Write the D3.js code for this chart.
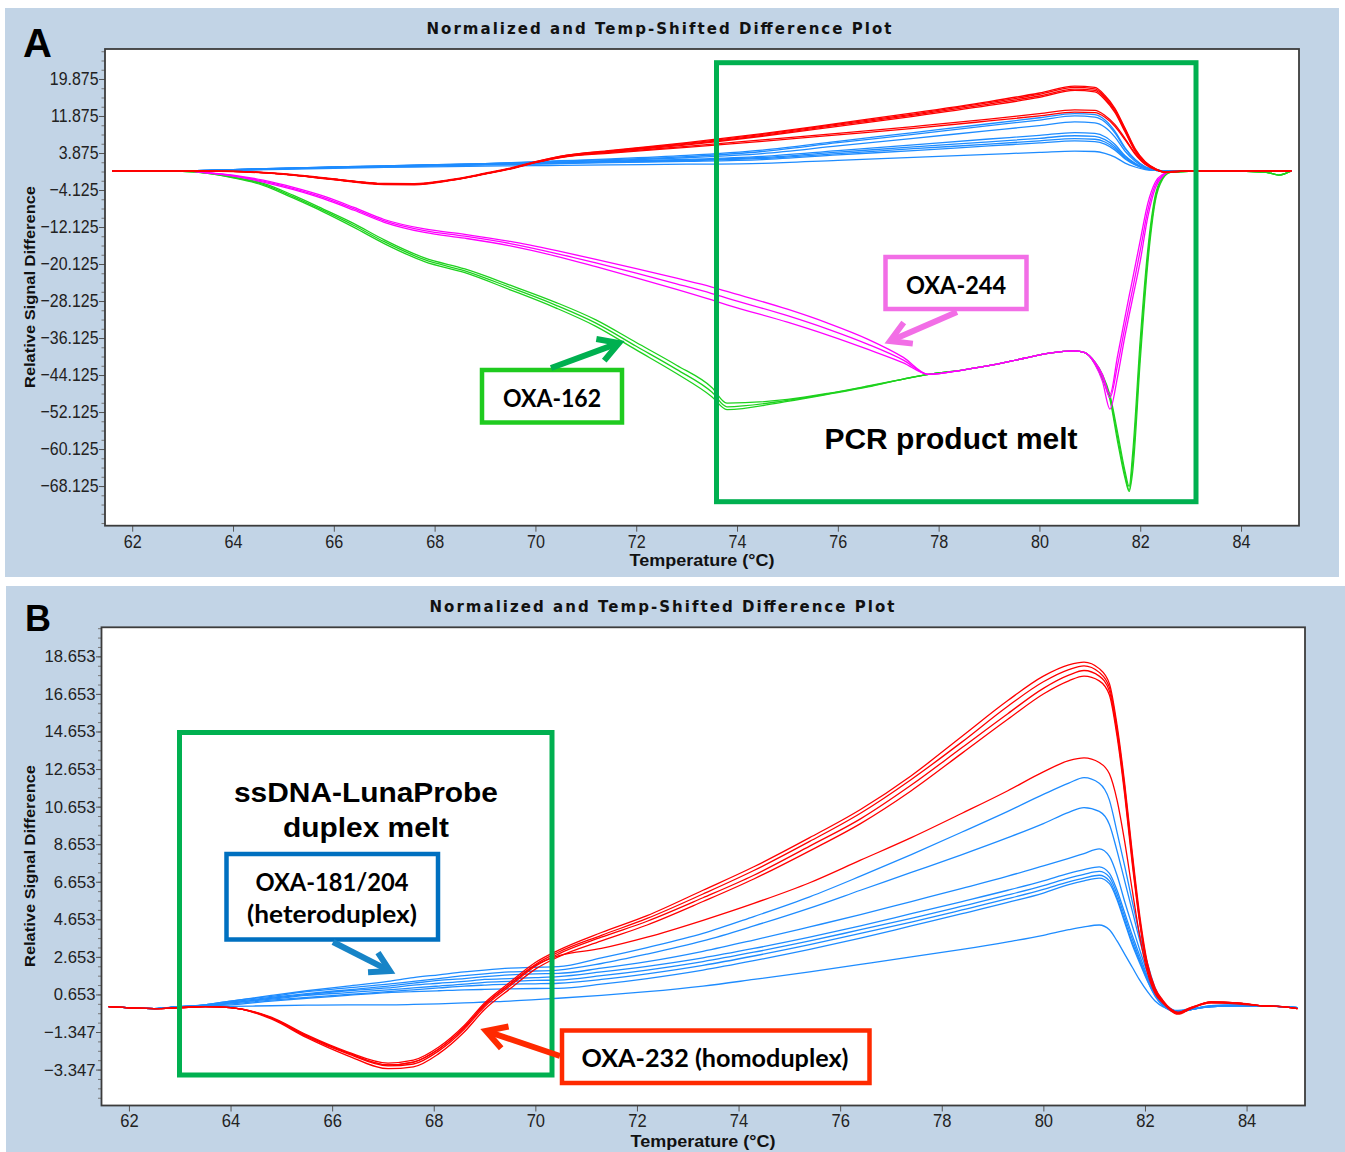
<!DOCTYPE html>
<html><head><meta charset="utf-8">
<script src="https://cdn.jsdelivr.net/npm/d3@7"></script>
<style>body{margin:0;background:#fff}svg{display:block}</style>
</head><body>
<script>
// ---------------- DATA ----------------
const xTicks = [62,64,66,68,70,72,74,76,78,80,82,84];
const yTicksA = [19.875,11.875,3.875,-4.125,-12.125,-20.125,-28.125,-36.125,-44.125,-52.125,-60.125,-68.125];
const yTicksB = [18.653,16.653,14.653,12.653,10.653,8.653,6.653,4.653,2.653,0.653,-1.347,-3.347];

// Panel A, red & blue temperature grid (°C)
const tempA_RB = [61.6,63.0,64.0,65.0,66.0,67.0,67.6,68.3,69.0,69.5,70.0,70.5,71.5,73.0,74.5,76.0,77.5,79.0,80.0,80.7,81.1,81.3,81.5,81.7,81.9,82.1,82.3,82.5,82.8,83.5,84.5,85.0];
const redA1 = [0,0,-0.1,-0.6,-1.7,-2.7,-2.75,-1.9,-0.5,0.6,2.0,3.2,4.45,6.1,8.05,10.3,12.55,15.0,16.85,18.35,18.05,16.3,13.5,9.2,4.8,2.0,0.5,-0.25,-0.1,0,0,0];
const redA2 = [0,0,-0.1,-0.7,-1.8,-2.8,-2.85,-2.0,-0.6,0.5,1.95,3.15,4.35,5.95,7.9,10.1,12.3,14.75,16.55,18.05,17.75,16.0,13.2,9.0,4.6,1.9,0.45,-0.3,-0.1,0,0,0];
const redA3 = [0,0,-0.1,-0.7,-1.85,-2.85,-2.9,-2.05,-0.65,0.45,1.85,3.05,4.25,5.8,7.7,9.9,12.05,14.45,16.2,17.7,17.4,15.7,12.9,8.7,4.4,1.75,0.4,-0.3,-0.1,0,0,0];
const redA4 = [0,0,-0.15,-0.75,-1.9,-2.95,-3.0,-2.1,-0.7,0.4,1.8,2.95,4.15,5.65,7.5,9.65,11.8,14.15,15.9,17.4,17.1,15.4,12.6,8.4,4.2,1.6,0.35,-0.35,-0.1,0,0,0];
const redA5 = [0,0,-0.1,-0.7,-1.8,-2.8,-2.85,-2.0,-0.6,0.5,1.9,3.0,4.0,5.3,6.7,8.1,9.6,11.2,12.4,13.2,13.1,12.0,10.0,7.0,3.8,1.5,0.35,-0.2,-0.05,0,0,0];
const redA6 = [0,0,-0.1,-0.7,-1.8,-2.8,-2.85,-2.0,-0.6,0.5,1.85,2.9,3.85,5.1,6.4,7.8,9.2,10.8,11.9,12.7,12.6,11.6,9.6,6.7,3.6,1.4,0.3,-0.2,-0.05,0,0,0];
const blueA1 = [0,0,0.3,0.6,0.85,1.1,1.25,1.4,1.6,1.8,2.0,2.2,2.6,3.35,4.5,6.4,8.3,10.2,11.5,12.4,12.15,11.0,8.55,5.0,2.5,0.9,0.25,0,0,0,0,0];
const blueA2 = [0,0,0.3,0.6,0.85,1.1,1.25,1.4,1.55,1.75,1.9,2.1,2.45,3.1,4.2,6.1,7.9,9.8,11.0,11.9,11.65,10.6,8.2,4.8,2.4,0.85,0.25,0,0,0,0,0];
const blueA3 = [0,0,0.25,0.55,0.8,1.05,1.2,1.35,1.5,1.65,1.8,1.95,2.25,2.85,3.75,5.4,7.05,8.7,9.8,10.6,10.4,9.45,7.3,4.25,2.1,0.75,0.2,0,0,0,0,0];
const blueA4 = [0,0,0.25,0.5,0.75,1.0,1.15,1.3,1.45,1.55,1.7,1.8,2.1,2.5,3.15,4.4,5.65,6.9,7.7,8.3,8.1,7.4,5.7,3.3,1.65,0.6,0.15,0,0,0,0,0];
const blueA5 = [0,0,0.25,0.5,0.75,0.95,1.1,1.25,1.4,1.5,1.6,1.75,2.0,2.35,2.9,4.05,5.2,6.3,7.05,7.6,7.45,6.75,5.25,3.05,1.5,0.55,0.15,0,0,0,0,0];
const blueA6 = [0,0,0.2,0.45,0.7,0.9,1.05,1.2,1.35,1.45,1.55,1.65,1.9,2.2,2.7,3.75,4.8,5.8,6.5,7.0,6.85,6.25,4.85,2.8,1.4,0.5,0.15,0,0,0,0,0];
const blueA7 = [0,0,0.2,0.45,0.7,0.9,1.0,1.15,1.3,1.4,1.5,1.6,1.8,2.05,2.45,3.45,4.4,5.4,6.05,6.5,6.35,5.8,4.5,2.6,1.3,0.45,0.1,0,0,0,0,0];
const blueA8 = [0,0,0.15,0.35,0.55,0.75,0.85,0.95,1.05,1.1,1.15,1.2,1.3,1.45,1.65,2.3,2.95,3.6,4.0,4.3,4.2,3.8,3.0,1.7,0.85,0.3,0.1,0,0,0,0,0];

// Panel A, magenta (OXA-244) & green (OXA-162) temperature grid
const tempA_MG = [61.6,63.0,63.5,64.0,64.6,65.2,65.8,66.4,67.0,67.8,68.6,69.5,70.4,71.2,72.0,72.8,73.5,73.8,75.0,75.8,76.6,77.3,77.8,78.5,79.1,79.7,80.2,80.7,80.9,81.1,81.25,81.4,81.55,81.7,81.78,81.85,82.0,82.15,82.3,82.45,82.6,83.5,84.5,84.75,85.0];
const magentaA1 = [0,0,-0.35,-0.9,-2.0,-3.55,-5.45,-7.9,-10.5,-12.55,-13.7,-15.25,-17.2,-19.1,-21.1,-23.2,-25.1,-26.05,-29.9,-32.9,-36.4,-40.3,-44.0,-43.0,-41.9,-40.5,-39.4,-38.9,-39.3,-41.3,-44.0,-48.3,-40.0,-31.5,-27.0,-23.3,-15.0,-7.0,-2.4,-0.7,-0.1,0,0,0,0];
const magentaA2 = [0,0,-0.4,-1.0,-2.2,-3.8,-5.75,-8.2,-10.8,-12.9,-14.1,-15.7,-17.8,-19.9,-22.1,-24.4,-26.5,-27.5,-31.3,-34.2,-37.5,-40.9,-44.0,-43.0,-41.9,-40.5,-39.4,-38.9,-39.3,-41.5,-44.5,-49.0,-42.0,-33.5,-29.2,-25.5,-17.2,-8.5,-3.0,-0.9,-0.1,0,0,0,0];
const magentaA3 = [0,0,-0.45,-1.1,-2.4,-4.05,-6.05,-8.5,-11.1,-13.3,-14.55,-16.2,-18.4,-20.7,-23.1,-25.6,-27.9,-28.95,-32.7,-35.5,-38.6,-41.5,-44.0,-43.0,-41.9,-40.5,-39.4,-38.9,-39.3,-41.8,-45.5,-51.5,-44.5,-35.5,-31.2,-27.5,-19.5,-10.0,-3.7,-1.1,-0.15,0,0,0,0];
const greenA1 = [0,-0.1,-0.45,-1.3,-2.7,-5.3,-8.3,-11.4,-14.9,-18.8,-21.2,-24.7,-28.4,-32.2,-37.1,-42.0,-46.8,-50.2,-49.4,-48.1,-46.5,-45.0,-44.0,-43.0,-41.9,-40.5,-39.4,-38.9,-39.3,-41.3,-44.0,-48.5,-56.5,-65.0,-68.2,-61.0,-36.5,-17.0,-5.2,-1.3,-0.3,0,-0.3,-0.9,0];
const greenA2 = [0,-0.1,-0.5,-1.4,-2.9,-5.6,-8.6,-11.8,-15.3,-19.2,-21.6,-25.2,-29.0,-32.9,-37.9,-42.9,-47.8,-51.0,-49.6,-48.2,-46.6,-45.0,-44.0,-43.0,-41.9,-40.5,-39.4,-38.9,-39.3,-41.5,-44.5,-49.0,-57.5,-65.8,-69.0,-63.0,-38.9,-18.5,-5.8,-1.5,-0.3,0,-0.3,-0.9,0];
const greenA3 = [0,-0.1,-0.55,-1.5,-3.1,-5.9,-8.9,-12.2,-15.7,-19.6,-22.0,-25.7,-29.6,-33.6,-38.7,-43.8,-48.8,-51.6,-49.8,-48.3,-46.7,-45.0,-44.0,-43.0,-41.9,-40.5,-39.4,-38.9,-39.3,-41.7,-45.0,-49.5,-58.5,-66.5,-69.3,-65.0,-41.0,-20.0,-6.5,-1.7,-0.3,0,-0.3,-0.9,0];

// Panel B temperature grid
const tempB = [61.6,62.5,63.0,63.5,64.0,64.8,65.5,66.3,67.1,67.6,68.1,68.6,69.0,69.5,70.0,70.45,71.3,72.2,73.3,74.3,75.4,76.4,77.4,78.4,79.3,80.0,80.5,80.8,81.1,81.3,81.45,81.6,81.75,81.9,82.05,82.2,82.35,82.5,82.65,82.9,83.3,83.8,84.3,84.7,85.0];
const redB1 = [0,-0.1,-0.05,0,-0.05,-0.55,-1.5,-2.4,-3.0,-2.85,-2.15,-1.0,0.2,1.3,2.35,3.0,3.95,4.85,6.2,7.45,9.0,10.5,12.3,14.4,16.3,17.6,18.2,18.35,18.0,17.2,15.0,11.9,8.2,4.8,2.3,1.0,0.35,-0.1,-0.3,-0.05,0.25,0.2,0.05,0,-0.1];
const redB2 = [0,-0.1,-0.05,0,-0.05,-0.6,-1.55,-2.45,-3.1,-2.95,-2.25,-1.1,0.1,1.2,2.25,2.9,3.8,4.7,6.0,7.25,8.8,10.3,12.1,14.1,16.0,17.3,17.95,18.15,17.8,17.0,14.8,11.7,8.0,4.6,2.2,0.9,0.3,-0.15,-0.35,-0.1,0.25,0.2,0.05,0,-0.1];
const redB3 = [0,-0.1,-0.05,0,-0.05,-0.6,-1.6,-2.5,-3.15,-3.05,-2.35,-1.2,0.0,1.1,2.15,2.8,3.7,4.55,5.8,7.0,8.55,10.0,11.8,13.8,15.6,16.95,17.65,17.9,17.6,16.8,14.6,11.5,7.8,4.5,2.1,0.85,0.3,-0.15,-0.35,-0.1,0.25,0.2,0.05,0,-0.1];
const redB4 = [0,-0.1,-0.05,0,-0.05,-0.65,-1.65,-2.6,-3.3,-3.2,-2.5,-1.35,-0.15,0.95,2.0,2.65,3.5,4.35,5.6,6.8,8.3,9.75,11.5,13.5,15.3,16.65,17.35,17.6,17.35,16.6,14.4,11.3,7.6,4.4,2.0,0.8,0.25,-0.2,-0.4,-0.1,0.2,0.2,0.05,0,-0.1];
const redB5 = [0,-0.1,-0.05,0,-0.05,-0.6,-1.55,-2.45,-3.1,-2.95,-2.25,-1.1,0.1,1.2,2.2,2.7,3.1,3.7,4.6,5.5,6.6,7.8,9.0,10.3,11.5,12.5,13.1,13.25,13.0,12.4,11.0,8.8,6.2,3.7,1.8,0.7,0.2,-0.15,-0.3,-0.05,0.2,0.15,0.05,0,-0.1];
const blueB1 = [0,-0.1,0,0.1,0.3,0.6,0.85,1.1,1.35,1.55,1.7,1.85,1.95,2.05,2.1,2.13,2.6,3.15,3.9,4.8,5.85,6.95,8.1,9.3,10.4,11.3,11.9,12.2,11.9,11.0,9.3,7.5,5.6,3.8,2.3,1.0,0.3,-0.1,-0.25,-0.15,0.05,0.1,0.05,0,-0.05];
const blueB2 = [0,-0.1,0,0.1,0.3,0.55,0.8,1.0,1.2,1.35,1.5,1.65,1.75,1.85,1.9,1.95,2.3,2.8,3.5,4.3,5.25,6.2,7.15,8.1,9.0,9.75,10.35,10.6,10.4,9.7,8.3,6.7,5.1,3.5,2.1,0.9,0.25,-0.1,-0.25,-0.15,0.05,0.1,0.05,0,-0.05];
const blueB3 = [0,-0.1,0,0.1,0.25,0.5,0.7,0.9,1.1,1.25,1.4,1.5,1.6,1.7,1.75,1.77,2.05,2.4,2.95,3.55,4.25,4.9,5.6,6.3,6.95,7.5,7.9,8.15,8.4,8.0,7.0,5.6,4.3,3.0,1.8,0.8,0.2,-0.15,-0.25,-0.15,0,0.05,0.05,0,-0.05];
const blueB4 = [0,-0.1,0,0.05,0.2,0.45,0.65,0.85,1.0,1.15,1.25,1.35,1.45,1.5,1.55,1.6,1.85,2.15,2.6,3.1,3.7,4.3,4.95,5.6,6.2,6.7,7.1,7.3,7.45,7.1,6.2,5.0,3.8,2.7,1.6,0.7,0.15,-0.2,-0.3,-0.15,0,0.05,0.05,0,-0.05];
const blueB5 = [0,-0.1,0,0.05,0.2,0.4,0.6,0.75,0.9,1.0,1.1,1.2,1.3,1.35,1.4,1.42,1.65,1.95,2.4,2.9,3.5,4.1,4.7,5.35,5.95,6.45,6.85,7.05,7.2,6.9,6.0,4.8,3.6,2.5,1.5,0.65,0.1,-0.2,-0.3,-0.15,0,0.05,0.05,0,-0.05];
const blueB6 = [0,-0.1,0,0.05,0.15,0.35,0.5,0.65,0.8,0.9,1.0,1.1,1.15,1.2,1.22,1.25,1.45,1.75,2.2,2.7,3.3,3.9,4.5,5.15,5.75,6.25,6.65,6.85,7.0,6.7,5.8,4.6,3.4,2.4,1.4,0.6,0.1,-0.2,-0.3,-0.15,0,0.05,0.05,0,-0.05];
const blueB7 = [0,-0.1,0,0.05,0.1,0.3,0.45,0.6,0.75,0.8,0.85,0.9,0.92,0.95,0.97,0.98,1.2,1.5,1.95,2.45,3.05,3.65,4.3,4.95,5.55,6.05,6.5,6.7,6.85,6.55,5.7,4.5,3.3,2.3,1.35,0.55,0.05,-0.2,-0.3,-0.15,0,0.05,0.05,0,-0.05];
const blueB8 = [0,-0.1,0,0,0.02,0.05,0.08,0.1,0.1,0.12,0.15,0.2,0.25,0.3,0.38,0.45,0.6,0.8,1.1,1.45,1.85,2.25,2.65,3.05,3.45,3.8,4.1,4.25,4.35,4.1,3.5,2.8,2.1,1.4,0.8,0.3,0.0,-0.15,-0.2,-0.1,0,0.05,0.05,0,-0.05];

// ---------------- STYLE / LAYOUT ----------------
const RED="#ff0000", BLUE="#1e8cff", MAG="#ff00ff", GRN="#1ed21e";
const seriesA = [
  ...[greenA1,greenA2,greenA3].map(v=>({grid:tempA_MG, vals:v, color:GRN})),
  ...[magentaA1,magentaA2,magentaA3].map(v=>({grid:tempA_MG, vals:v, color:MAG})),
  ...[blueA1,blueA2,blueA3,blueA4,blueA5,blueA6,blueA7,blueA8].map(v=>({grid:tempA_RB, vals:v, color:BLUE})),
  ...[redA6,redA5,redA4,redA3,redA2,redA1].map(v=>({grid:tempA_RB, vals:v, color:RED}))
];
const seriesB = [
  ...[blueB1,blueB2,blueB3,blueB4,blueB5,blueB6,blueB7,blueB8].map(v=>({grid:tempB, vals:v, color:BLUE})),
  ...[redB5,redB4,redB3,redB2,redB1].map(v=>({grid:tempB, vals:v, color:RED}))
];

const panels = [
 {key:"A", bg:{x:5,y:8,w:1334,h:569}, plot:{l:105,t:49,r:1299,b:525.7}, yDom:[-76.7,26.36],
  yTicks:yTicksA, yMinorStart:-76.125, yMinorStep:2, title:{x:659,y:33.5}, letter:{t:"A",x:23,y:57,size:40},
  ylab:{x:35,y:287}, xlab:{x:702,y:566}, yFont:{size:18.5,sx:0.86,tick:6,gap:6.5}, xFont:{size:19,sx:0.85}, series:seriesA},
 {key:"B", bg:{x:6,y:586,w:1339,h:566}, plot:{l:101.5,t:627.3,r:1305,b:1105.5}, yDom:[-5.26,20.2],
  yTicks:yTicksB, yMinorStart:-4.847, yMinorStep:0.5, title:{x:662,y:612}, letter:{t:"B",x:25,y:630.5,size:36},
  ylab:{x:35,y:866}, xlab:{x:703,y:1146.5}, yFont:{size:17,sx:0.98,tick:5.5,gap:6}, xFont:{size:18.6,sx:0.89}, series:seriesB}
];

const svg = d3.select("body").append("svg").attr("width",1345).attr("height",1152);
const SANS = "'Liberation Sans', Arial, sans-serif";
const CAL = "Lato, 'Open Sans', sans-serif";

panels.forEach(p=>{
  const P=p.plot;
  const x = d3.scaleLinear().domain([61.46,85.15]).range([P.l,P.r]);
  const y = d3.scaleLinear().domain(p.yDom).range([P.b,P.t]);
  const g = svg.append("g");
  g.append("rect").attr("x",p.bg.x).attr("y",p.bg.y).attr("width",p.bg.w).attr("height",p.bg.h).attr("fill","#c2d4e6");
  g.append("rect").attr("x",P.l).attr("y",P.t).attr("width",P.r-P.l).attr("height",P.b-P.t).attr("fill","#fff");

  // title
  g.append("text").attr("x",p.title.x).attr("y",p.title.y).attr("text-anchor","middle")
    .attr("font-family","'DejaVu Sans', sans-serif").attr("font-weight","bold").attr("font-size",15)
    .attr("textLength",465).attr("lengthAdjust","spacing").attr("fill","#111")
    .text("Normalized and Temp-Shifted Difference Plot");
  g.append("text").attr("x",p.letter.x).attr("y",p.letter.y).attr("font-family",SANS).attr("font-weight","bold")
    .attr("font-size",p.letter.size).attr("fill","#000").text(p.letter.t);

  // axes
  const gx = g.append("g").attr("transform",`translate(0,${P.b})`)
    .call(d3.axisBottom(x).tickValues(xTicks).tickSize(6).tickSizeOuter(0).tickPadding(2.5).tickFormat(d3.format("d")));
  gx.select(".domain").remove();
  gx.selectAll("line").attr("stroke","#555");
  gx.selectAll("text").attr("font-family",SANS).attr("font-size",p.xFont.size).attr("fill","#222")
    .attr("transform",`scale(${p.xFont.sx},1)`);

  const minor = d3.range(p.yMinorStart, p.yDom[1], p.yMinorStep);
  const gym = g.append("g").attr("transform",`translate(${P.l},0)`)
    .call(d3.axisLeft(y).tickValues(minor).tickSize(3.5).tickSizeOuter(0).tickFormat(""));
  gym.select(".domain").remove(); gym.selectAll("line").attr("stroke","#777");
  const gy = g.append("g").attr("transform",`translate(${P.l},0)`)
    .call(d3.axisLeft(y).tickValues(p.yTicks).tickSize(p.yFont.tick).tickSizeOuter(0).tickFormat(d3.format(".3f")));
  gy.select(".domain").remove();
  gy.selectAll("line").attr("stroke","#555");
  gy.selectAll("text").attr("font-family",SANS).attr("font-size",p.yFont.size).attr("fill","#222")
    .attr("x",-p.yFont.gap/p.yFont.sx).attr("transform",`scale(${p.yFont.sx},1)`);

  // axis titles
  g.append("text").attr("transform",`translate(${p.ylab.x},${p.ylab.y}) rotate(-90)`).attr("text-anchor","middle")
    .attr("font-family",SANS).attr("font-weight","bold").attr("font-size",15).attr("fill","#111")
    .attr("textLength",202).attr("lengthAdjust","spacingAndGlyphs").text("Relative Signal Difference");
  g.append("text").attr("x",p.xlab.x).attr("y",p.xlab.y).attr("text-anchor","middle")
    .attr("font-family",SANS).attr("font-weight","bold").attr("font-size",16.5).attr("fill","#111")
    .attr("textLength",145).attr("lengthAdjust","spacingAndGlyphs").text("Temperature (°C)");

  // lines
  const cid = "clip"+p.key;
  svg.append("clipPath").attr("id",cid).append("rect").attr("x",P.l).attr("y",P.t).attr("width",P.r-P.l).attr("height",P.b-P.t);
  const line = d3.line().x(d=>x(d[0])).y(d=>y(d[1])).curve(d3.curveMonotoneX);
  const gl = g.append("g").attr("clip-path",`url(#${cid})`);
  p.series.forEach(s=>{
    if (s.vals.length!==s.grid.length) console.warn("length mismatch", s.vals.length, s.grid.length);
    gl.append("path").attr("d", line(s.grid.map((t,i)=>[t,s.vals[i]])))
      .attr("fill","none").attr("stroke",s.color).attr("stroke-width",1.3).attr("stroke-linejoin","round");
  });

  // frame
  g.append("rect").attr("x",P.l).attr("y",P.t).attr("width",P.r-P.l).attr("height",P.b-P.t)
    .attr("fill","none").attr("stroke","#3c3c3c").attr("stroke-width",1.8);
  p.g = g;
});

// ---------------- ANNOTATIONS ----------------
function box(g,x,y,w,h,color,sw,fill){
  g.append("rect").attr("x",x).attr("y",y).attr("width",w).attr("height",h)
   .attr("fill",fill||"none").attr("stroke",color).attr("stroke-width",sw);
}
function label(g,txt,cx,by,size,len,fam){
  g.append("text").attr("x",cx).attr("y",by).attr("text-anchor","middle").attr("font-family",fam||CAL)
   .attr("font-weight","bold").attr("font-size",size).attr("fill","#000")
   .attr("textLength",len).attr("lengthAdjust","spacingAndGlyphs").text(txt);
}
function arrow(g,tail,tip,color,w,arm,ang){
  const a = Math.atan2(tail[1]-tip[1], tail[0]-tip[0]);
  const sx = tip[0]+Math.cos(a)*2, sy = tip[1]+Math.sin(a)*2;
  g.append("line").attr("x1",tail[0]).attr("y1",tail[1]).attr("x2",sx).attr("y2",sy)
   .attr("stroke",color).attr("stroke-width",w);
  const p1=[tip[0]+arm*Math.cos(a+ang), tip[1]+arm*Math.sin(a+ang)];
  const p2=[tip[0]+arm*Math.cos(a-ang), tip[1]+arm*Math.sin(a-ang)];
  g.append("path").attr("d",`M${p1[0]},${p1[1]}L${tip[0]},${tip[1]}L${p2[0]},${p2[1]}`)
   .attr("fill","none").attr("stroke",color).attr("stroke-width",w).attr("stroke-linejoin","miter").attr("stroke-miterlimit",3);
}
const gA = panels[0].g, gB = panels[1].g;
const ang = 30*Math.PI/180;
// Panel A
box(gA,716.5,62.7,479.5,439,"#00b050",5);
box(gA,885.5,257,141,52,"#f26ee6",4.5,"#fff");
label(gA,"OXA-244",956,293.5,24,100);
arrow(gA,[957,312],[890,341],"#f26ee6",6,23,ang);
box(gA,482,370,140,52.5,"#1fcb1f",4.5,"#fff");
label(gA,"OXA-162",552,406.5,24,98);
arrow(gA,[551,368],[619,343],"#00b050",6,23,ang);
label(gA,"PCR product melt",951,448.5,29,253,SANS);
// Panel B
box(gB,179.5,732.5,372.5,342.5,"#00b050",5);
label(gB,"ssDNA-LunaProbe",366,802,28,264,SANS);
label(gB,"duplex melt",366,837,28,166,SANS);
box(gB,226.5,854,211.5,85.5,"#0070c0",4.5,"#fff");
label(gB,"OXA-181/204",332,891,24,153);
label(gB,"(heteroduplex)",332,923,24,170);
arrow(gB,[333,942],[390,971],"#1784c7",6,22,ang);
box(gB,562,1030.5,307.5,52.5,"#ff2a00",4.5,"#fff");
label(gB,"OXA-232 (homoduplex)",715,1067,24,267);
arrow(gB,[560,1056],[486,1031],"#ff2a00",6,23,ang);
</script>
</body></html>
